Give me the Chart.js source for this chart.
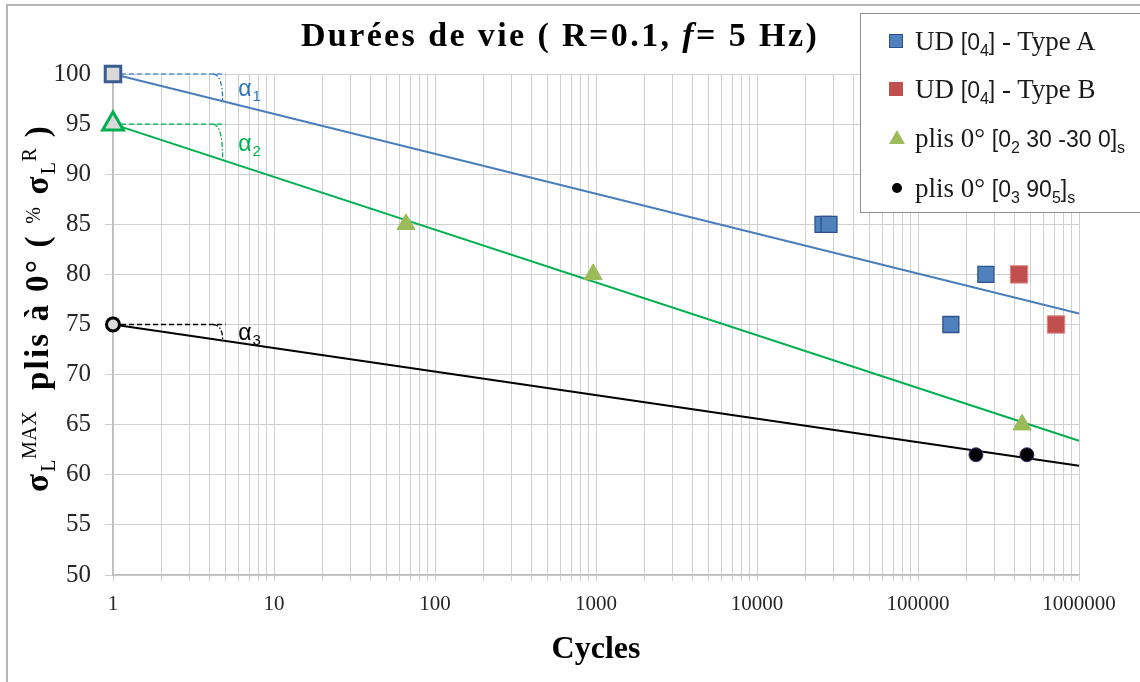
<!DOCTYPE html>
<html>
<head>
<meta charset="utf-8">
<script src="https://cdn.jsdelivr.net/npm/chart.js@4/dist/chart.umd.min.js"></script>
<style>
  html, body { margin:0; padding:0; background:#fff; }
  #wrap { position:relative; width:1140px; height:682px; overflow:hidden; background:#fff; }
  #c { position:absolute; left:0; top:0; }
  #frame { position:absolute; left:6px; top:4px; width:1200px; height:700px; border-left:2px solid #b4b4b4; border-top:2px solid #b4b4b4; pointer-events:none; }
  #title { position:absolute; left:560px; top:16px; transform:translateX(-50%); white-space:nowrap;
           font-family:"Liberation Serif", "DejaVu Serif", serif; font-weight:bold; font-size:34px; letter-spacing:2.4px; color:#000; }
  #ytitle { position:absolute; left:39px; top:308px; transform:translate(-50%,-50%) rotate(-90deg); white-space:nowrap;
           font-family:"Liberation Serif", serif; font-weight:bold; font-size:33px; letter-spacing:2.2px; color:#000; }
  #ytitle sub, #ytitle sup { font-size:20px; font-weight:normal; letter-spacing:0.5px; }
  #ytitle sub { vertical-align:-7px; }
  #ytitle sup { vertical-align:12px; }
  #ytitle .pc { font-size:20px; font-weight:normal; vertical-align:8px; }
  #legend { position:absolute; left:860px; top:13px; width:300px; height:198px; border:1.5px solid #8c8c8c; background:#fff; }
  .row { position:absolute; left:0; height:34px; white-space:nowrap;
         font-family:"Liberation Serif", serif; font-size:27px; color:#1a1a1a; }
  .mk { position:absolute; }
  .txt { position:absolute; left:54px; top:0; line-height:34px; }
  .sans { font-family:"Liberation Sans", "Open Sans", sans-serif; font-size:23px; }
  .txt sub { font-size:16px; }
</style>
</head>
<body>
<div id="wrap">
  <canvas id="c" width="1140" height="682"></canvas>
  <div id="frame"></div>
  <div id="title">Durées de vie ( R=0.1, <i>f</i>= 5 Hz)</div>
  <div id="ytitle">σ<sub>L</sub><sup>MAX</sup>&nbsp; plis à 0° (&nbsp;<span class="pc">%</span>&nbsp;σ<sub>L</sub><sup>R</sup>&nbsp;)</div>
  <div id="legend"></div>
</div>
<script>
// ---------- data ----------
const TICK_LABELS = ['1','10','100','1000','10000','100000','1000000'];
const Y_MIN = 50, Y_MAX = 100, Y_STEP = 5;

const typeA_cycles = [25700, 28000, 160000, 264000];
const typeA_stress = [85, 85, 75, 80];
const typeB_cycles = [424000, 720000];
const typeB_stress = [80, 75];
const ply30_cycles = [66, 960, 443000];
const ply30_stress = [85, 80, 65];
const ply90_cycles = [229000, 475000];
const ply90_stress = [62, 62];

const start_cycles = [1, 1, 1];
const start_stress = [100, 95, 75];

const fit_cycles = [1, 1000000];
const fitA_stress = [100, 76.1];
const fit30_stress = [95, 63.4];
const fit90_stress = [75, 60.9];

const LEGEND_LABELS = [
  ['UD ', '[0<sub>4</sub>]', ' - Type A'],
  ['UD ', '[0<sub>4</sub>]', ' - Type B'],
  ['plis 0° ', '[0<sub>2</sub> 30 -30 0]<sub>s</sub>', ''],
  ['plis 0° ', '[0<sub>3</sub> 90<sub>5</sub>]<sub>s</sub>', '']
];
const ALPHA_LABELS = ['1', '2', '3'];

// ---------- helpers ----------
const pts = (xs, ys) => xs.map((v, i) => ({x: v, y: ys[i]}));
const LOG_SPAN = Math.log10(fit_cycles[1] / fit_cycles[0]);
const fitAt = (f, c) => f[0] + (f[1] - f[0]) * Math.log10(c / fit_cycles[0]) / LOG_SPAN;

const C_BLUE = '#4f81bd', C_BLUE_D = '#2f528f', C_RED = '#c0504d', C_GREEN = '#9bbb59';
const LINE_BLUE = '#4a7ebb', LINE_GREEN = '#00b050';

const ALPHAS = [
  {fit: fitA_stress, dash: '#5b8fd0', arc: '#2e75b6', text: '#2e75b6', sub: ALPHA_LABELS[0]},
  {fit: fit30_stress, dash: '#00b050', arc: '#00b050', text: '#00b050', sub: ALPHA_LABELS[1]},
  {fit: fit90_stress, dash: '#000000', arc: '#000000', text: '#000000', sub: ALPHA_LABELS[2]}
];

const alphaPlugin = {
  id: 'alphas',
  beforeDatasetsDraw(chart) {
    const {ctx, scales: {x, y}} = chart;
    ALPHAS.forEach(a => {
      const x0 = x.getPixelForValue(1), y0 = y.getPixelForValue(a.fit[0]);
      const xe = x.getPixelForValue(5);
      ctx.save();
      ctx.lineWidth = 1.3;
      ctx.strokeStyle = a.dash;
      ctx.setLineDash([5, 3]);
      ctx.beginPath(); ctx.moveTo(x0, y0); ctx.lineTo(xe, y0); ctx.stroke();
      const xs = x.getPixelForValue(4.2), xa = x.getPixelForValue(4.8);
      const ya = y.getPixelForValue(fitAt(a.fit, 4.8));
      ctx.strokeStyle = a.arc;
      ctx.setLineDash([5, 2, 1.5, 2]);
      ctx.beginPath(); ctx.moveTo(xs, y0); ctx.quadraticCurveTo(xa, y0 + 1, xa, ya); ctx.stroke();
      ctx.setLineDash([]);
      const xl = x.getPixelForValue(6);
      const ym = (y0 + y.getPixelForValue(fitAt(a.fit, 6.15))) / 2;
      ctx.fillStyle = a.text;
      ctx.textBaseline = 'middle'; ctx.textAlign = 'left';
      ctx.font = '23px "Liberation Sans", "Open Sans", sans-serif';
      ctx.fillText('α', xl, ym);
      const w = ctx.measureText('α').width;
      ctx.font = '15px "Liberation Sans", "Open Sans", sans-serif';
      ctx.fillText(a.sub, xl + w + 1, ym + 7);
      ctx.restore();
    });
  }
};

// ---------- chart ----------
const serif = '"Liberation Serif", "DejaVu Serif", serif';
const marker = (data, style, r, bg, border, bw) => ({
  type: 'scatter', data, pointStyle: style, pointRadius: r, pointHoverRadius: r,
  backgroundColor: bg, borderColor: border, pointBorderWidth: bw, borderWidth: bw, clip: false, order: 1
});
const fitLine = (data, color) => ({
  type: 'scatter', data, showLine: true, borderColor: color, borderWidth: 2, pointRadius: 0,
  pointHoverRadius: 0, fill: false, clip: false, order: 3
});

new Chart(document.getElementById('c'), {
  type: 'scatter',
  data: {
    datasets: [
      marker([{x: start_cycles[0], y: start_stress[0]}], 'rect', 11, '#d9d9d9', '#3a5d8f', 3),
      marker([{x: start_cycles[1], y: start_stress[1]}], 'triangle', 12, '#d9d9d9', '#00b050', 3),
      marker([{x: start_cycles[2], y: start_stress[2]}], 'circle', 6.5, '#d9d9d9', '#000000', 3),
      marker(pts(typeA_cycles, typeA_stress), 'rect', 11.3, C_BLUE, C_BLUE_D, 1.3),
      marker(pts(typeB_cycles, typeB_stress), 'rect', 12.3, C_RED, '#e08a88', 1),
      marker(pts(ply30_cycles, ply30_stress), 'triangle', 10.5, C_GREEN, C_GREEN, 1),
      marker(pts(ply90_cycles, ply90_stress), 'circle', 7, '#000000', '#4b2d7f', 1),
      fitLine(pts(fit_cycles, fitA_stress), LINE_BLUE),
      fitLine(pts(fit_cycles, fit30_stress), LINE_GREEN),
      fitLine(pts(fit_cycles, fit90_stress), '#000000')
    ]
  },
  options: {
    responsive: false,
    animation: false,
    devicePixelRatio: 1,
    layout: { padding: { left: 0, top: 74, right: 61, bottom: 0 } },
    plugins: { legend: { display: false }, tooltip: { enabled: false }, title: { display: false } },
    scales: {
      x: {
        type: 'logarithmic',
        min: 1, max: 1000000,
        afterBuildTicks(scale) {
          const t = [];
          for (let k = 0; k < TICK_LABELS.length - 1; k++) {
            for (let m = 1; m <= 9; m++) t.push({value: m * Math.pow(10, k), major: m === 1});
          }
          t.push({value: Math.pow(10, TICK_LABELS.length - 1), major: true});
          scale.ticks = t;
        },
        afterFit(scale) { scale.height = 107; },
        grid: { color: '#d0d0d0', lineWidth: 1, tickLength: 6, drawTicks: true },
        border: { display: true, color: '#bdbdbd', width: 1.5 },
        ticks: {
          autoSkip: false, maxRotation: 0, minRotation: 0, padding: 11,
          color: '#262626', font: { family: serif, size: 21 },
          callback(value) {
            const s = String(Math.round(value));
            return TICK_LABELS.includes(s) ? s : '';
          }
        },
        title: {
          display: true, text: 'Cycles', color: '#000',
          font: { family: serif, size: 32, weight: 'bold' }, padding: { top: 0, bottom: 13 }
        }
      },
      y: {
        min: Y_MIN, max: Y_MAX,
        afterFit(scale) { scale.width = 113; },
        grid: { color: '#d0d0d0', lineWidth: 1, tickLength: 8 },
        border: { display: true, color: '#bdbdbd', width: 1.5 },
        ticks: { stepSize: Y_STEP, padding: 14, color: '#262626', font: { family: serif, size: 25 } }
      }
    }
  },
  plugins: [alphaPlugin]
});

// ---------- HTML legend (rich text with subscripts) ----------
const LEGEND_MARKERS = [
  'width:14px;height:14px;background:' + C_BLUE + ';border:1px solid ' + C_BLUE_D + ';box-sizing:border-box;left:28px;top:10px;',
  'width:14px;height:14px;background:' + C_RED + ';left:28px;top:10px;',
  'width:0;height:0;border-left:8px solid transparent;border-right:8px solid transparent;border-bottom:14px solid ' + C_GREEN + ';left:28px;top:9px;',
  'width:10px;height:10px;border-radius:50%;background:#000;left:31px;top:12px;'
];
const LEGEND_ROWS_Y = [10, 58, 107, 157];
const lg = document.getElementById('legend');
LEGEND_LABELS.forEach((parts, i) => {
  const row = document.createElement('div');
  row.className = 'row';
  row.style.top = LEGEND_ROWS_Y[i] + 'px';
  row.style.width = '300px';
  row.innerHTML = '<span class="mk" style="' + LEGEND_MARKERS[i] + '"></span>' +
    '<span class="txt">' + parts[0] + '<span class="sans">' + parts[1] + '</span>' + parts[2] + '</span>';
  lg.appendChild(row);
});
</script>
</body>
</html>
